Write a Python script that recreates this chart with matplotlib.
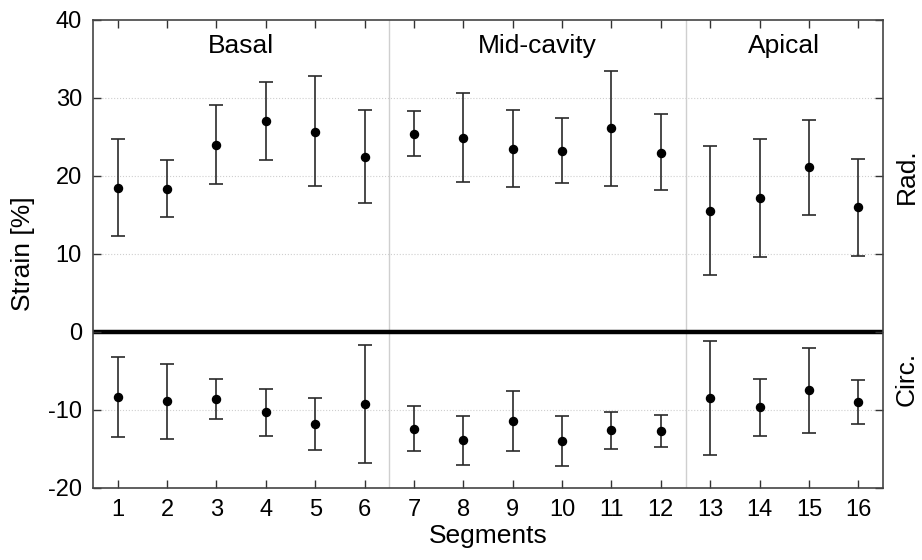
import numpy as np
import matplotlib.pyplot as plt

plt.rcParams['font.family'] = ['Liberation Sans', 'DejaVu Sans']
plt.rcParams['axes.unicode_minus'] = False

# segment numbers and strain values [%]
segments = np.arange(1, 17)
rad_mean = [18.5, 18.3, 24.0, 27.0, 25.6, 22.4, 25.4, 24.9, 23.5, 23.2, 26.1, 23.0, 15.5, 17.2, 21.1, 16.0]
rad_upper = [24.8, 22.0, 29.1, 32.1, 32.8, 28.4, 28.3, 30.7, 28.4, 27.4, 33.5, 27.9, 23.8, 24.8, 27.2, 22.2]
rad_lower = [12.3, 14.7, 19.0, 22.0, 18.7, 16.6, 22.5, 19.2, 18.6, 19.1, 18.7, 18.2, 7.3, 9.6, 15.0, 9.8]
circ_mean = [-8.3, -8.9, -8.6, -10.3, -11.8, -9.2, -12.4, -13.9, -11.4, -14.0, -12.6, -12.7, -8.5, -9.6, -7.5, -9.0]
circ_upper = [-3.2, -4.1, -6.0, -7.3, -8.4, -1.7, -9.5, -10.8, -7.6, -10.8, -10.2, -10.6, -1.2, -6.0, -2.0, -6.2]
circ_lower = [-13.4, -13.7, -11.2, -13.3, -15.1, -16.8, -15.3, -17.0, -15.2, -17.2, -15.0, -14.8, -15.8, -13.3, -13.0, -11.8]
regions = ['Basal', 'Mid-cavity', 'Apical']
region_centers = [3.5, 9.5, 14.5]

fig = plt.figure(figsize=(9.22, 5.6), dpi=100)
ax = fig.add_axes([0.1009, 0.1286, 0.8568, 0.8357])

# grid lines
for gy in [30, 20, 10, -10]:
    ax.axhline(gy, color='#cfcfcf', lw=0.8, ls=':', zorder=0)
for gx in [6.5, 12.5]:
    ax.axvline(gx, color='#cfcfcf', lw=1.0, zorder=0)
ax.axhline(0, color='black', lw=3.2, zorder=1)

for mean, up, lo in [(rad_mean, rad_upper, rad_lower), (circ_mean, circ_upper, circ_lower)]:
    mean = np.array(mean)
    yerr = [mean - np.array(lo), np.array(up) - mean]
    ax.errorbar(segments, mean, yerr=yerr, fmt='o', color='black', ms=5.8,
                ecolor='#2a2a2a', elinewidth=1.2, capsize=5, capthick=1.2, zorder=3)

for name, cx in zip(regions, region_centers):
    ax.text(cx, 36.7, name, ha='center', va='center', fontsize=19)

ax.set_xlim(0.5, 16.5)
ax.set_ylim(-20, 40)
ax.set_xticks(segments)
ax.set_yticks([-20, -10, 0, 10, 20, 30, 40])
ax.tick_params(direction='in', length=6, width=1, top=True, right=True,
               labelsize=17, colors='#333333', labelcolor='black', pad=8)
for s in ax.spines.values():
    s.set_color('#444444')
    s.set_linewidth(1.2)

ax.set_xlabel('Segments', fontsize=19, labelpad=2)
ax.set_ylabel('Strain [%]', fontsize=19, labelpad=9)

ax.text(1.03, (20 + 20) / 60, 'Rad.', transform=ax.transAxes, rotation=90,
        ha='center', va='center', fontsize=19)
ax.text(1.03, (20 - 6) / 60, 'Circ.', transform=ax.transAxes, rotation=90,
        ha='center', va='center', fontsize=19)

plt.savefig('out.png', dpi=100)
